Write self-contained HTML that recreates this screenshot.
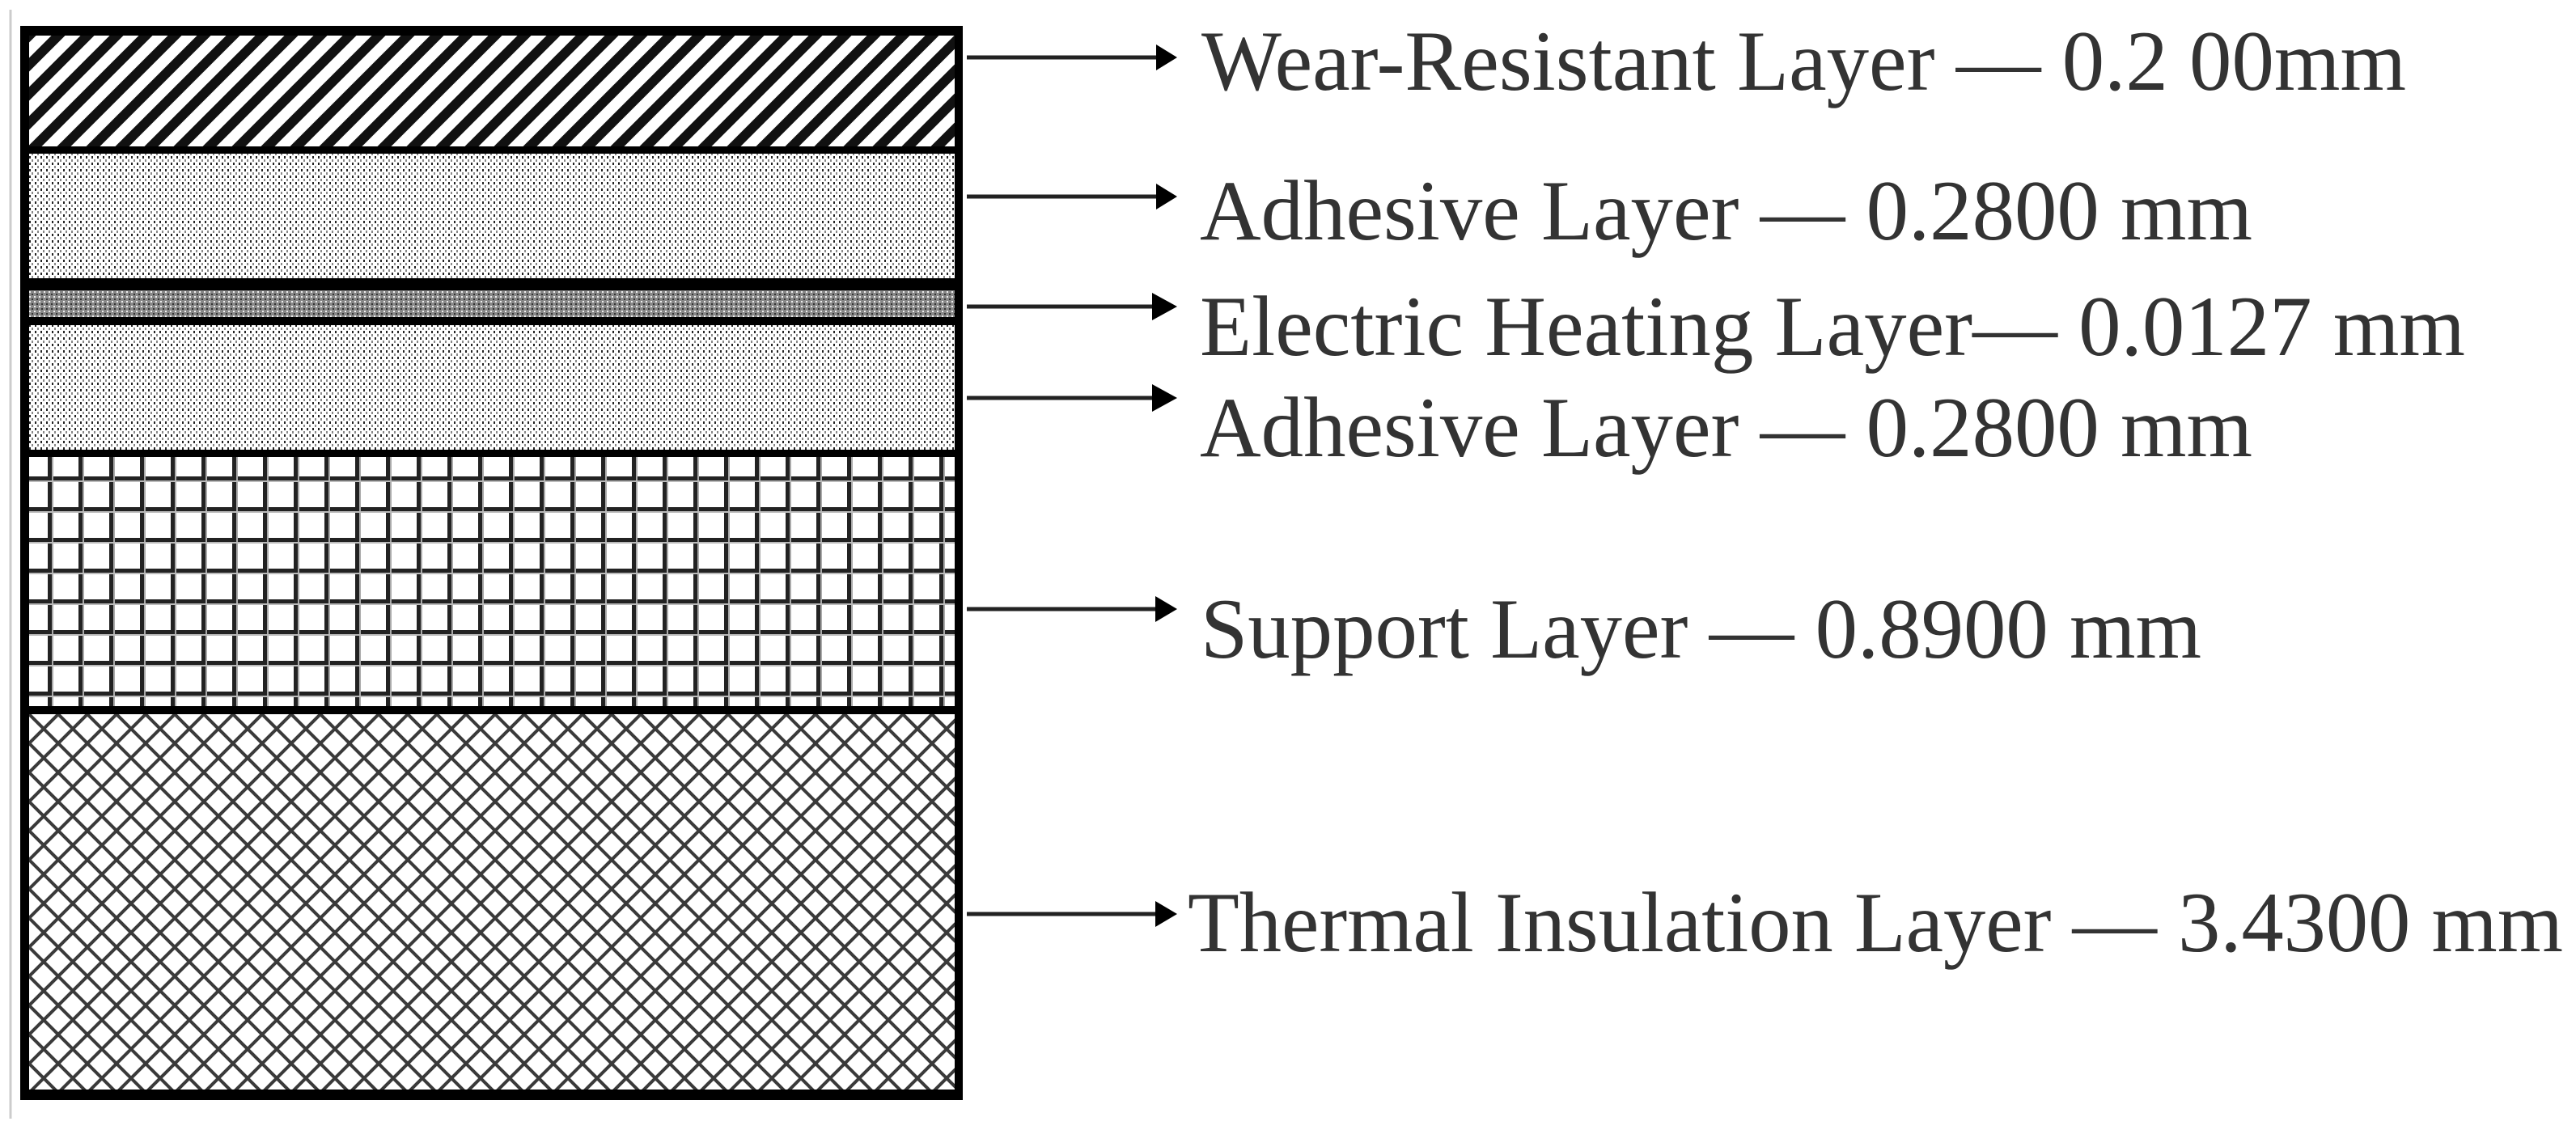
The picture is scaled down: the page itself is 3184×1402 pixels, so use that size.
<!DOCTYPE html>
<html><head><meta charset="utf-8"><style>
html,body{margin:0;padding:0;background:#fff;}
svg{display:block;}
text{font-family:"Liberation Serif",serif;fill:#333;font-size:106px;}
</style></head><body>
<svg width="3184" height="1402" viewBox="0 0 3184 1402" xmlns="http://www.w3.org/2000/svg">
<defs>
<pattern id="diag" width="36" height="36" patternUnits="userSpaceOnUse" x="36" y="44">
<rect width="36" height="36" fill="#fff"/>
<path d="M-9,45 L45,-9 M-27,27 L27,-27 M9,63 L63,9" stroke="#111" stroke-width="12"/>
</pattern>
<pattern id="dots" width="7" height="8" patternUnits="userSpaceOnUse">
<rect width="7" height="8" fill="#fff"/>
<rect x="1" y="1" width="2" height="3" fill="#222"/>
<rect x="4" y="5" width="2" height="3" fill="#888"/>
</pattern>
<pattern id="heat" width="6" height="6" patternUnits="userSpaceOnUse">
<rect width="6" height="6" fill="#888"/>
<rect x="0" y="0" width="2" height="2" fill="#eee"/>
<rect x="3" y="3" width="2" height="2" fill="#333"/>
</pattern>
<pattern id="grid" width="38" height="38" patternUnits="userSpaceOnUse" x="43" y="573">
<rect width="38" height="38" fill="#fff"/>
<rect x="16" y="0" width="5" height="38" fill="#222"/>
<rect x="0" y="16" width="38" height="5" fill="#222"/>
<rect x="21" y="0" width="2" height="38" fill="#aaa"/>
<rect x="0" y="21" width="38" height="2" fill="#bbb"/>
</pattern>
<pattern id="diamond" width="36" height="36" patternUnits="userSpaceOnUse" x="36" y="883">
<rect width="36" height="36" fill="#fff"/>
<path d="M-18,18 L18,-18 M0,36 L36,0 M18,54 L54,18 M-18,18 L18,54 M0,0 L36,36 M18,-18 L54,18" stroke="#3a3a3a" stroke-width="4"/>
</pattern>
</defs>

<line x1="13" y1="12" x2="13" y2="1383" stroke="#ccc" stroke-width="3"/>

<rect x="25" y="32" width="1165" height="1328" fill="#000"/>
<rect x="36" y="44" width="1144" height="137" fill="url(#diag)"/>
<rect x="36" y="190" width="1144" height="154" fill="url(#dots)"/>
<rect x="36" y="359" width="1144" height="33" fill="url(#heat)"/>
<rect x="36" y="402" width="1144" height="154" fill="url(#dots)"/>
<rect x="36" y="565" width="1144" height="308" fill="url(#grid)"/>
<rect x="36" y="883" width="1144" height="464" fill="url(#diamond)"/>

<g stroke="#222" stroke-width="5">
<line x1="1195" y1="71" x2="1435" y2="71"/>
<line x1="1195" y1="243" x2="1435" y2="243"/>
<line x1="1195" y1="379" x2="1435" y2="379"/>
<line x1="1195" y1="492" x2="1435" y2="492"/>
<line x1="1195" y1="753" x2="1435" y2="753"/>
<line x1="1195" y1="1130" x2="1435" y2="1130"/>
</g>
<g fill="#000">
<polygon points="1429,55 1455,71 1429,87"/>
<polygon points="1429,227 1455,243 1429,259"/>
<polygon points="1424,362 1455,379 1424,396"/>
<polygon points="1424,475 1455,492 1424,509"/>
<polygon points="1428,737 1455,753 1428,769"/>
<polygon points="1428,1114 1455,1130 1428,1146"/>
</g>

<text x="1485" y="111" textLength="1489" lengthAdjust="spacingAndGlyphs">Wear-Resistant Layer — 0.2 00mm</text>
<text x="1483" y="296" textLength="1301" lengthAdjust="spacingAndGlyphs">Adhesive Layer — 0.2800 mm</text>
<text x="1483" y="439" textLength="1564" lengthAdjust="spacingAndGlyphs">Electric Heating Layer— 0.0127 mm</text>
<text x="1483" y="564" textLength="1301" lengthAdjust="spacingAndGlyphs">Adhesive Layer — 0.2800 mm</text>
<text x="1484" y="813" textLength="1237" lengthAdjust="spacingAndGlyphs">Support Layer — 0.8900 mm</text>
<text x="1468" y="1176" textLength="1700" lengthAdjust="spacingAndGlyphs">Thermal Insulation Layer — 3.4300 mm</text>
</svg>
</body></html>
